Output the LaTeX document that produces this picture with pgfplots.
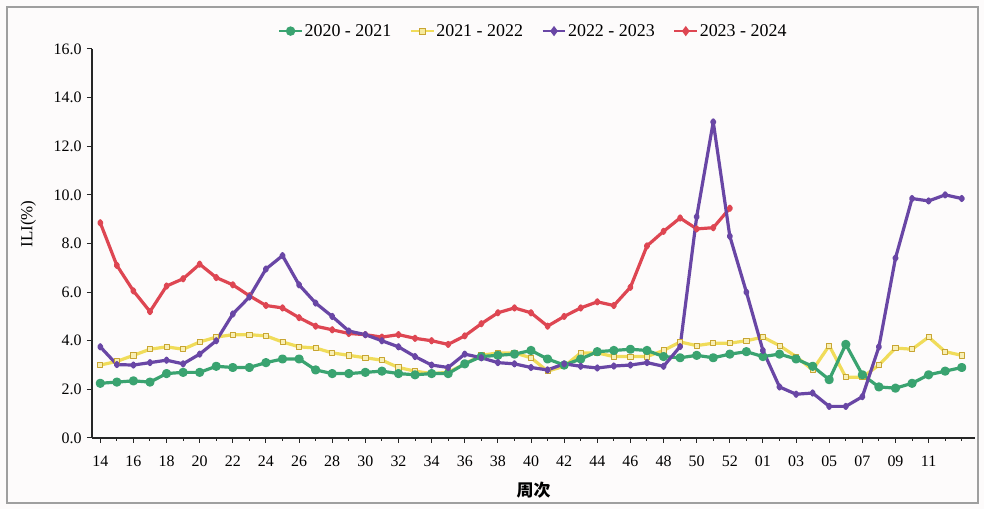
\documentclass[border=0pt]{standalone}
\usepackage{pgfplots}
\pgfplotsset{compat=1.18}
\usepackage{fontspec}
\setmainfont{Liberation Serif}
\newfontfamily\cjk{Noto Sans CJK SC}
\definecolor{cgreen}{RGB}{58,163,112}
\definecolor{cyellow}{RGB}{240,220,90}
\definecolor{cyellowdark}{RGB}{200,165,50}
\definecolor{cpurple}{RGB}{105,70,165}
\definecolor{cred}{RGB}{222,70,82}
\definecolor{bg}{RGB}{253,251,251}
\begin{document}
\begin{tikzpicture}
\fill[bg] (0,0) rectangle (984bp,509bp);
\draw[gray!75, line width=1.3bp] (7bp,6bp) rectangle (978bp,502bp);
\begin{axis}[
  at={(92bp,71bp)}, anchor=south west,
  scale only axis, width=883bp, height=389bp,
  xmin=-0.5, xmax=52.8, ymin=0, ymax=16,
  axis x line*=bottom, axis y line*=left,
  axis line style={line width=1.2bp, black!85},
  /pgf/number format/assume math mode=true,
  ytick={0,2,...,16},
  yticklabel style={/pgf/number format/fixed, /pgf/number format/precision=1, /pgf/number format/fixed zerofill, font=\fontsize{16}{18}\selectfont, xshift=-2bp},
  xtick={0,2,...,50},
  xticklabels={14,16,18,20,22,24,26,28,30,32,34,36,38,40,42,44,46,48,50,52,01,03,05,07,09,11},
  minor xtick={1,3,...,51,52},
  xticklabel style={font=\fontsize{16}{18}\selectfont, yshift=-9bp},
  tick align=outside,
  major tick length=5bp, minor tick length=3bp,
  every tick/.style={black!85, line width=1bp},
  xlabel={\cjk\bfseries 周次},
  ylabel={ILI(\%)},
  every axis x label/.style={at={(axis description cs:0.5,0)}, anchor=center, yshift=-52bp, font=\fontsize{17}{19}\selectfont},
  every axis y label/.style={at={(axis description cs:-0.072,0.55)}, anchor=center, rotate=90, font=\fontsize{17}{19}\selectfont},
  legend columns=4,
  legend style={at={(0.5,1)}, anchor=south, yshift=7bp, draw=none, fill=none,
    font=\fontsize{18}{20}\selectfont,
    /tikz/every even column/.append style={column sep=17bp}},
  legend image code/.code={\draw[mark repeat=2,mark phase=2,#1] plot coordinates {(0cm,0cm) (0.4cm,0cm) (0.8cm,0cm)};},
  clip=false,
]
\addlegendimage{color=cgreen, line width=1.4bp, mark=*, mark size=4bp}
\addlegendentry{2020 - 2021}
\addlegendimage{color=cyellow, line width=1.4bp, mark=square*, mark size=3.2bp, mark options={fill=cyellow!60!white, draw=cyellowdark, line width=0.8bp}}
\addlegendentry{2021 - 2022}
\addlegendimage{color=cpurple, line width=1.4bp, mark=diamond*, mark size=4bp}
\addlegendentry{2022 - 2023}
\addlegendimage{color=cred, line width=1.4bp, mark=diamond*, mark size=4bp}
\addlegendentry{2023 - 2024}

% 2023-2024
\addplot[forget plot, color=cred, line width=3.2bp, line join=round, mark=diamond*, mark size=2bp] table {
0 8.85
1 7.1
2 6.05
3 5.2
4 6.25
5 6.55
6 7.15
7 6.6
8 6.3
9 5.85
10 5.45
11 5.35
12 4.95
13 4.6
14 4.45
15 4.3
16 4.25
17 4.15
18 4.25
19 4.1
20 4.0
21 3.85
22 4.2
23 4.7
24 5.15
25 5.35
26 5.15
27 4.6
28 5.0
29 5.35
30 5.6
31 5.45
32 6.2
33 7.9
34 8.5
35 9.05
36 8.6
37 8.65
38 9.45
};
% 2021-2022
\addplot[forget plot, color=cyellow, line width=3.2bp, line join=round, mark=square*, mark size=2.6bp, mark options={fill=cyellow!45!white, draw=cyellowdark, line width=0.8bp}] table {
0 3.0
1 3.15
2 3.4
3 3.65
4 3.75
5 3.65
6 3.95
7 4.15
8 4.25
9 4.25
10 4.2
11 3.95
12 3.75
13 3.7
14 3.5
15 3.4
16 3.3
17 3.2
18 2.9
19 2.75
20 2.65
21 2.7
22 3.05
23 3.4
24 3.5
25 3.5
26 3.3
27 2.75
28 2.95
29 3.5
30 3.5
31 3.35
32 3.35
33 3.35
34 3.6
35 3.95
36 3.8
37 3.9
38 3.9
39 4.0
40 4.15
41 3.8
42 3.35
43 2.8
44 3.8
45 2.5
46 2.5
47 3.0
48 3.7
49 3.65
50 4.15
51 3.55
52 3.4
};
% 2020-2021
\addplot[forget plot, color=cgreen, line width=3.2bp, line join=round, mark=*, mark size=3bp] table {
0 2.25
1 2.3
2 2.35
3 2.3
4 2.65
5 2.7
6 2.7
7 2.95
8 2.9
9 2.9
10 3.1
11 3.25
12 3.25
13 2.8
14 2.65
15 2.65
16 2.7
17 2.75
18 2.65
19 2.6
20 2.65
21 2.65
22 3.05
23 3.35
24 3.4
25 3.45
26 3.6
27 3.25
28 3.0
29 3.25
30 3.55
31 3.6
32 3.65
33 3.6
34 3.35
35 3.3
36 3.4
37 3.3
38 3.45
39 3.55
40 3.35
41 3.45
42 3.25
43 2.95
44 2.4
45 3.85
46 2.6
47 2.1
48 2.05
49 2.25
50 2.6
51 2.75
52 2.9
};
% 2022-2023
\addplot[forget plot, color=cpurple, line width=3.2bp, line join=round, mark=diamond*, mark size=2bp] table {
0 3.75
1 3.02
2 3.0
3 3.1
4 3.2
5 3.05
6 3.45
7 4.0
8 5.1
9 5.8
10 6.95
11 7.5
12 6.3
13 5.55
14 5.0
15 4.4
16 4.25
17 4.0
18 3.75
19 3.35
20 3.0
21 2.9
22 3.45
23 3.3
24 3.1
25 3.05
26 2.9
27 2.8
28 3.05
29 2.95
30 2.88
31 2.96
32 3.0
33 3.1
34 2.95
35 3.76
36 9.1
37 13.0
38 8.3
39 6.0
40 3.6
41 2.1
42 1.8
43 1.85
44 1.3
45 1.3
46 1.7
47 3.75
48 7.4
49 9.85
50 9.75
51 10.0
52 9.85
};
\end{axis}
\end{tikzpicture}
\end{document}
